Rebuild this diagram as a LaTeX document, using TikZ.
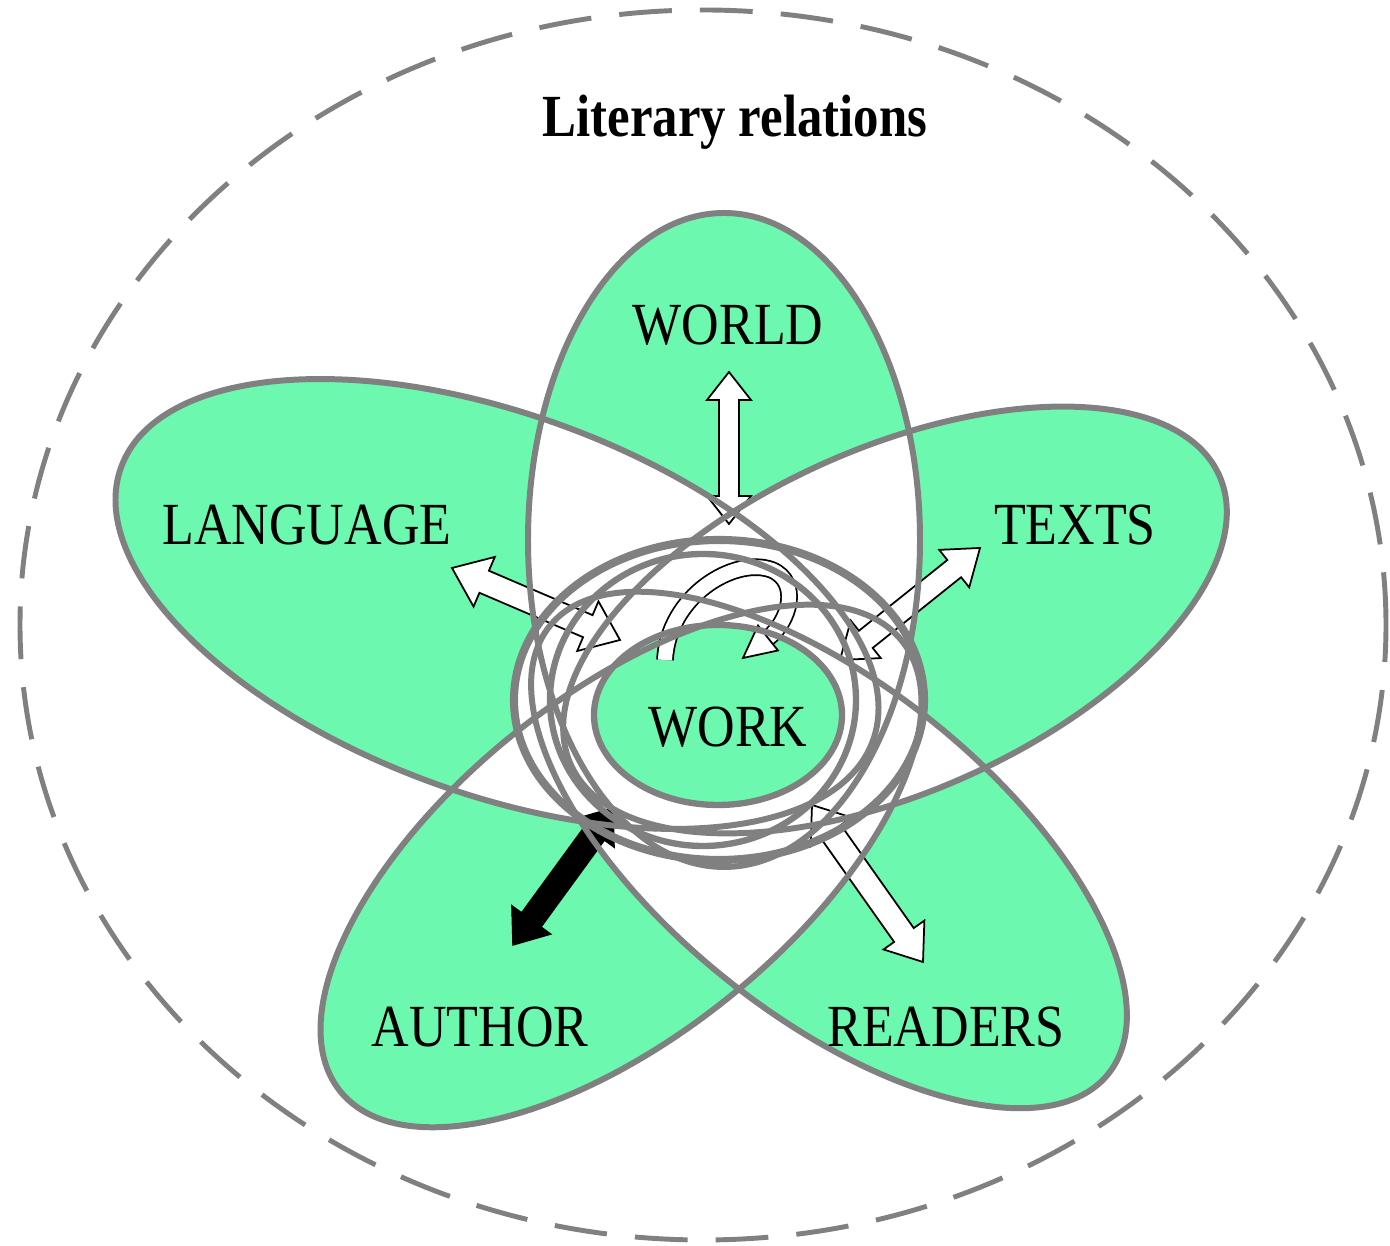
\documentclass[tikz,border=0pt]{standalone}
\usepackage{fontspec}
\setmainfont{Liberation Serif}
\usetikzlibrary{calc}
\definecolor{flowergreen}{HTML}{6CF8AE}
\definecolor{ringgray}{HTML}{808080}

\tikzset{
  pet/.style n args={5}{shift={(#1,#2)},rotate=#5,xscale=#3,yscale=#4},
  outline/.style={draw=ringgray,line width=1.7pt},
  lbl/.style={font=\fontsize{17}{20}\selectfont,xscale=0.87,inner sep=0pt},
  ttl/.style={font=\bfseries\fontsize{17}{20}\selectfont,xscale=0.85,inner sep=0pt},
  blk/.style={fill=white,draw=black,line width=0.5pt},
}

% block arrow with two heads: ends, shaft half width, head half width, head length
\newcommand{\dblarrow}[6][blk]{%
  \path[#1] (#2) -- ($(#2)!#6!(#3)!#5!90:(#3)$) -- ($(#2)!#6!(#3)!#4!90:(#3)$)
    -- ($(#3)!#6!(#2)!#4!-90:(#2)$) -- ($(#3)!#6!(#2)!#5!-90:(#2)$) -- (#3)
    -- ($(#3)!#6!(#2)!#5!90:(#2)$) -- ($(#3)!#6!(#2)!#4!90:(#2)$)
    -- ($(#2)!#6!(#3)!#4!-90:(#3)$) -- ($(#2)!#6!(#3)!#5!-90:(#3)$) -- cycle;}

% petals: centre x/centre y/long radius/short radius/angle
\def\petals{724/706/327/196/90, 497/642/400/190/-20, 895/626/355/172/24,
  829/396/358/165/-38.7, 621/380/360/170/38.7}

\begin{document}
\begin{tikzpicture}[x=0.01cm,y=0.01cm]
  \useasboundingbox (0,0) rectangle (1390,1246);

  % green petals, white where two overlap
  \foreach \px/\py/\pa/\pb/\pr in \petals
    \fill[flowergreen,pet={\px}{\py}{\pa}{\pb}{\pr}] (0,0) circle[radius=1];
  \foreach \px/\py/\pa/\pb/\pr [count=\i] in \petals {
    \foreach \qx/\qy/\qa/\qb/\qr [count=\j] in \petals {
      \ifnum\i<\j
        \begin{scope}
          \clip[pet={\px}{\py}{\pa}{\pb}{\pr}] (0,0) circle[radius=1];
          \fill[white,pet={\qx}{\qy}{\qa}{\qb}{\qr}] (0,0) circle[radius=1];
        \end{scope}
      \fi
    }
  }
  \fill[white] (719,546) ellipse[x radius=205,y radius=160];
  \fill[flowergreen] (718,531) ellipse[x radius=124,y radius=90];

  % arrows
  \coordinate (worldtop) at (729,874);
  \coordinate (worldbot) at (729,722);
  \coordinate (langtip) at (452,678);
  \coordinate (langend) at (620,606);
  \coordinate (textstip) at (980,698);
  \coordinate (textsend) at (840,586);
  \coordinate (readtop) at (812,441);
  \coordinate (readtip) at (923,284);
  \coordinate (authtop) at (613,438);
  \coordinate (authtip) at (513,301);
  \dblarrow{worldtop}{worldbot}{0.1cm}{0.22cm}{0.28cm}
  \dblarrow{langtip}{langend}{0.12cm}{0.27cm}{0.35cm}
  \dblarrow{textstip}{textsend}{0.11cm}{0.24cm}{0.33cm}
  \dblarrow{readtop}{readtip}{0.12cm}{0.25cm}{0.33cm}
  \dblarrow[fill=black,draw=black]{authtop}{authtip}{0.12cm}{0.24cm}{0.31cm}

  % turning arrow over the work
  \coordinate (looptail) at (665,586);
  \coordinate (loopend) at (768,608);
  \coordinate (looptip) at (743,588);
  \draw[black,line width=5pt] (looptail) .. controls (668,650) and (735,690) .. (772,676)
    .. controls (800,664) and (790,625) .. (loopend);
  \draw[white,line width=4pt] (looptail) .. controls (668,650) and (735,690) .. (772,676)
    .. controls (800,664) and (790,625) .. (loopend);
  \path[blk] (looptip) -- ($(loopend)!0.16cm!90:(looptip)$) -- ($(loopend)!0.16cm!-90:(looptip)$) -- cycle;

  % outlines
  \foreach \px/\py/\pa/\pb/\pr in \petals
    \draw[outline,pet={\px}{\py}{\pa}{\pb}{\pr}] (0,0) circle[radius=1];
  \draw[ringgray,line width=2.3pt] (719,546) ellipse[x radius=205,y radius=160];
  \draw[ringgray,line width=1.8pt] (703,546) ellipse[x radius=153,y radius=146];
  \draw[ringgray,line width=1.8pt] (718,531) ellipse[x radius=124,y radius=90];

  % labels
  \node[ttl] (title) at (735,1124) {Literary relations};
  \node[lbl] (world) at (728,921) {WORLD};
  \node[lbl] (language) at (307,721) {LANGUAGE};
  \node[lbl] (texts) at (1075,721) {TEXTS};
  \node[lbl] (work) at (728,519) {WORK};
  \node[lbl] (author) at (480,219) {AUTHOR};
  \node[lbl] (readers) at (946,219) {READERS};

  \draw[ringgray,line width=1.4pt,dash pattern=on 15pt off 8pt]
    (703,621) ellipse[x radius=683,y radius=615];
\end{tikzpicture}
\end{document}
